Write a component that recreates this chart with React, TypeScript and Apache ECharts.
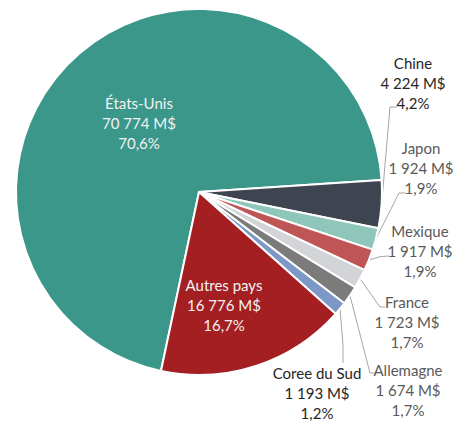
import React, { useEffect, useRef } from "react";
import * as echarts from "echarts";

const countries = ["États-Unis", "Chine", "Japon", "Mexique", "France", "Allemagne", "Coree du Sud", "Autres pays"];
const values = [70774, 4224, 1924, 1917, 1723, 1674, 1193, 16776];

const colors = ["#3A978A", "#3E4550", "#8EC6BA", "#BF5556", "#D3D4D7", "#7B7B7B", "#7D98C6", "#A31F22"];
const textColors = ["#F2F2F2", "#262626", "#595959", "#595959", "#595959", "#595959", "#262626", "#F2F2F2"];
const inside = [true, false, false, false, false, false, false, true];

// label anchor (centre of text block) and leader line bends, in px
const labelPos: number[][] = [
  [139, 123], [413, 83], [421, 168], [420, 251], [407, 322], [408, 390], [317, 393], [224, 305],
];
const leaderBends: number[][][] = [
  [], [[390, 107], [397, 107]], [[399, 193], [406, 193]], [[381, 256.5], [389, 256]],
  [[380, 307], [385, 307]], [[370, 373], [375, 373]], [[343, 345], [343, 363]], [],
];

const total = values.reduce((a, b) => a + b, 0);

function fmt(n: number) {
  return String(n).replace(/\B(?=(\d{3})+(?!\d))/g, " ");
}

export default function App() {
  const ref = useRef<HTMLDivElement>(null);
  useEffect(() => {
    if (!ref.current) return;
    const chart = echarts.init(ref.current, null, { renderer: "svg" });
    chart.setOption({
      animation: false,
      series: [
        {
          type: "pie",
          center: [199, 192],
          radius: 183,
          startAngle: 258,
          clockwise: true,
          avoidLabelOverlap: false,
          itemStyle: { borderColor: "#ffffff", borderWidth: 2 },
          label: {
            fontFamily: "Lato, 'Liberation Sans', sans-serif",
            fontSize: 15,
            lineHeight: 20,
            align: "center",
            formatter: (p: any) =>
              `${p.name}\n${fmt(p.value)} M$\n${((p.value / total) * 100).toFixed(1).replace(".", ",")}%`,
          },
          labelLine: { show: true, lineStyle: { color: "#A6A6A6", width: 1 } },
          labelLayout: (params: any) => {
            const i = params.dataIndex;
            const out: any = {
              x: labelPos[i][0],
              y: labelPos[i][1],
              align: "center",
              verticalAlign: "middle",
            };
            if (!inside[i] && params.labelLinePoints && params.labelLinePoints[0]) {
              out.labelLinePoints = [params.labelLinePoints[0], ...leaderBends[i]];
            }
            return out;
          },
          data: countries.map((name, i) => ({
            name,
            value: values[i],
            itemStyle: { color: colors[i] },
            label: { color: textColors[i], position: inside[i] ? "inside" : "outside" },
            labelLine: { show: !inside[i] },
          })),
        },
      ],
    });
    return () => chart.dispose();
  }, []);
  return (
    <div
      ref={ref}
      style={{ position: "fixed", left: 0, top: 0, width: 455, height: 422, background: "#ffffff" }}
    />
  );
}
